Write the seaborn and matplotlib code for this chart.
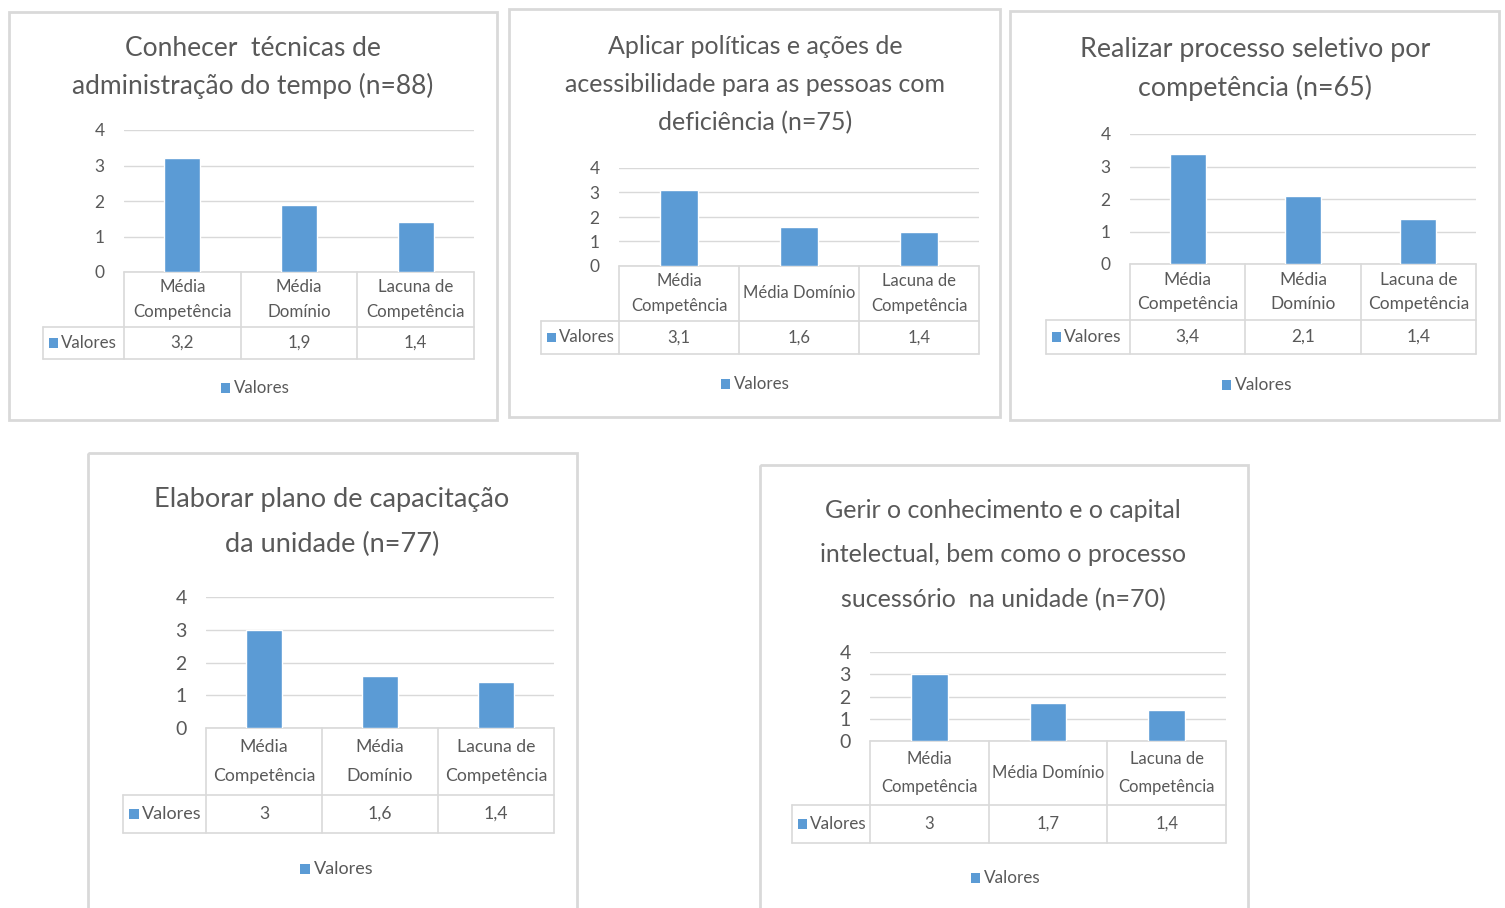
import matplotlib
matplotlib.use('Agg')
import matplotlib.pyplot as plt
from matplotlib.patches import Rectangle
import seaborn as sns
import pandas as pd

W, H = 1505, 908
BLUE = '#5B9BD5'
TXT = '#595959'
GRID = '#D9D9D9'

# data
cat_two = ['Média\nCompetência', 'Média\nDomínio', 'Lacuna de\nCompetência']
cat_one = ['Média\nCompetência', 'Média Domínio', 'Lacuna de\nCompetência']
serie = 'Valores'

title_tempo = ['Conhecer  técnicas de', 'administração do tempo (n=88)']
title_acess = ['Aplicar políticas e ações de', 'acessibilidade para as pessoas com', 'deficiência (n=75)']
title_seletivo = ['Realizar processo seletivo por', 'competência (n=65)']
title_capac = ['Elaborar plano de capacitação', 'da unidade (n=77)']
title_gestao = ['Gerir o conhecimento e o capital', 'intelectual, bem como o processo', 'sucessório  na unidade (n=70)']

vals_tempo = [3.2, 1.9, 1.4]
vals_acess = [3.1, 1.6, 1.4]
vals_seletivo = [3.4, 2.1, 1.4]
vals_capac = [3.0, 1.6, 1.4]
vals_gestao = [3.0, 1.7, 1.4]

yticks = [0, 1, 2, 3, 4]

sns.set_theme(style='white')
plt.rcParams['font.family'] = ['Lato', 'DejaVu Sans']
FAM = ['Lato', 'DejaVu Sans']

panels = [
    dict(title=title_tempo, vals=vals_tempo, cats=cat_two, box=(9, 12, 497, 420), tx=253, ty=[49, 86],
         ax=(124, 474, 130, 272), yh=327, yr=359, xl=43, ly=388, lx=258,
         tsize=19, ksize=12.5, csize=12.2, lsize=12.2, ls=1.65),
    dict(title=title_acess, vals=vals_acess, cats=cat_one, box=(509, 9, 1000, 417), tx=755, ty=[47, 85, 123],
         ax=(619, 979, 168, 266), yh=321, yr=354, xl=541, ly=384, lx=758,
         tsize=18, ksize=12.5, csize=12, lsize=12.2, ls=1.65),
    dict(title=title_seletivo, vals=vals_seletivo, cats=cat_two, box=(1010, 11, 1499, 420), tx=1255, ty=[49, 88],
         ax=(1130, 1476, 134, 264), yh=320, yr=354, xl=1046, ly=385, lx=1259,
         tsize=19.4, ksize=12.5, csize=12.5, lsize=12.5, ls=1.65),
    dict(title=title_capac, vals=vals_capac, cats=cat_two, box=(88, 453, 577, 912), tx=332, ty=[499, 544],
         ax=(206, 554, 597, 728), yh=795, yr=833, xl=123, ly=869, lx=337,
         tsize=19.5, ksize=14, csize=12.7, lsize=13, ls=2.05),
    dict(title=title_gestao, vals=vals_gestao, cats=cat_one, box=(760, 465, 1248, 912), tx=1003, ty=[511, 555, 600],
         ax=(870, 1226, 652, 741), yh=805, yr=843, xl=792, ly=878, lx=1008,
         tsize=18, ksize=14, csize=12, lsize=12.3, ls=1.9),
]

fig = plt.figure(figsize=(W / 100, H / 100), dpi=100)
ov = fig.add_axes([0, 0, 1, 1])
ov.set_xlim(0, W)
ov.set_ylim(H, 0)
ov.axis('off')


def fmt(v):
    return f'{v:g}'.replace('.', ',')


for p in panels:
    bx0, by0, bx1, by1 = p['box']
    ov.add_patch(Rectangle((bx0, by0), bx1 - bx0, by1 - by0, fill=False, ec=GRID, lw=2))
    for line, y in zip(p['title'], p['ty']):
        ov.text(p['tx'], y, line, ha='center', va='center', fontsize=p['tsize'], color=TXT, family=FAM)

    x0, x1, yt, yb = p['ax']
    ax = fig.add_axes([x0 / W, 1 - yb / H, (x1 - x0) / W, (yb - yt) / H])
    df = pd.DataFrame({'cat': p['cats'], 'val': p['vals']})
    sns.barplot(data=df, x='cat', y='val', color=BLUE, saturation=1, width=0.31, ax=ax, zorder=3)
    ax.set_xlim(-0.5, 2.5)
    ax.set_ylim(0, 4)
    ax.set_yticks(yticks)
    ax.set_yticklabels([str(t) for t in yticks], color=TXT, fontsize=p['ksize'], family=FAM)
    ax.set_xticks([])
    ax.set_xlabel('')
    ax.set_ylabel('')
    ax.tick_params(axis='y', length=0, pad=14)
    ax.yaxis.grid(True, color=GRID, lw=1, zorder=0)
    ax.set_facecolor('none')
    for s in ax.spines.values():
        s.set_visible(False)

    # data table under the chart
    cw = (x1 - x0) / 3
    yh, yr, xl = p['yh'], p['yr'], p['xl']
    ov.plot([x0, x1], [yb, yb], color=GRID, lw=1.2)
    ov.plot([xl, x1], [yh, yh], color=GRID, lw=1.2)
    ov.plot([xl, x1], [yr, yr], color=GRID, lw=1.2)
    for i in range(4):
        xv = x0 + i * cw
        ov.plot([xv, xv], [yb, yr], color=GRID, lw=1.2)
    ov.plot([xl, xl], [yh, yr], color=GRID, lw=1.2)
    for i, (c, v) in enumerate(zip(p['cats'], p['vals'])):
        xc = x0 + (i + 0.5) * cw
        ov.text(xc, (yb + yh) / 2, c, ha='center', va='center', fontsize=p['csize'], color=TXT,
                family=FAM, linespacing=p['ls'])
        ov.text(xc, (yh + yr) / 2, fmt(v), ha='center', va='center', fontsize=p['csize'], color=TXT, family=FAM)
    sq = p['lsize'] * 0.75
    ov.add_patch(Rectangle((xl + 6, (yh + yr) / 2 - sq / 2), sq, sq, color=BLUE, lw=0))
    ov.text(xl + 9 + sq, (yh + yr) / 2, serie, ha='left', va='center', fontsize=p['lsize'], color=TXT, family=FAM)

    # legend
    ov.add_patch(Rectangle((p['lx'] - 37, p['ly'] - sq / 2), sq, sq, color=BLUE, lw=0))
    ov.text(p['lx'] - 33 + sq, p['ly'], serie, ha='left', va='center', fontsize=p['lsize'], color=TXT, family=FAM)

fig.savefig('out.png', dpi=100, facecolor='white')
